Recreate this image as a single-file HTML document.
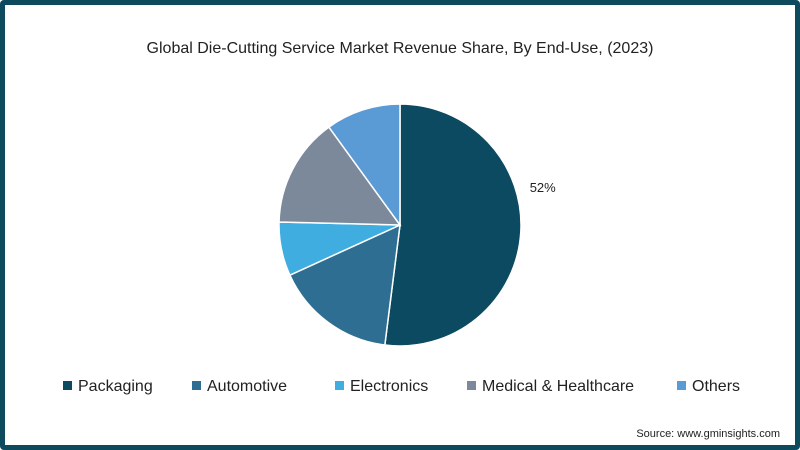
<!DOCTYPE html>
<html><head><meta charset="utf-8"><style>
body{margin:0;width:800px;height:450px;overflow:hidden;background:#fff;font-family:"Liberation Sans",sans-serif}
#frame{position:absolute;left:0;top:0;width:800px;height:450px;box-sizing:border-box;border:5px solid #0d4a5e;border-radius:4px;background:#fff}
</style></head><body>
<div id="frame">
<svg id="chart" width="790" height="440" style="position:absolute;left:0;top:0">
<text x="395" y="48" text-anchor="middle" font-size="16" fill="#222">Global Die-Cutting Service Market Revenue Share, By End-Use, (2023)</text>
<g id="slices"></g>
<g id="legend"></g>
<text x="775" y="432" text-anchor="end" font-size="11" fill="#222">Source: www.gminsights.com</text>
</svg>
</div>
<script>
const categories=["Packaging","Automotive","Electronics","Medical & Healthcare","Others"];
const values=[52,16.2,7.2,14.6,10];
const colors=["#0b4a60","#2e6e92","#40ade0","#7b899b","#5b9bd5"];
const labels=["52%","","","",""];
const ns="http://www.w3.org/2000/svg";
const cx=395,cy=220,r=121;
const total=values.reduce((a,b)=>a+b,0);
const g=document.getElementById("slices");
let a0=0;
function pt(a,rr){return [cx+rr*Math.sin(a),cy-rr*Math.cos(a)];}
values.forEach((v,i)=>{
  const a1=a0+v/total*2*Math.PI;
  const p0=pt(a0,r),p1=pt(a1,r);
  const large=(a1-a0)>Math.PI?1:0;
  const p=document.createElementNS(ns,"path");
  p.setAttribute("d",`M${cx},${cy}L${p0[0]},${p0[1]}A${r},${r} 0 ${large} 1 ${p1[0]},${p1[1]}Z`);
  p.setAttribute("fill",colors[i]);
  p.setAttribute("stroke","#fff");
  p.setAttribute("stroke-width","1.5");
  
  
  g.appendChild(p);
  if(labels[i]){
    const am=(a0+a1)/2;const lp=pt(am,r+22);
    const lt=document.createElementNS(ns,"text");
    lt.setAttribute("x",lp[0]);lt.setAttribute("y",lp[1]-42);
    lt.setAttribute("font-size","13");lt.setAttribute("fill","#222");lt.setAttribute("text-anchor","middle");
    lt.textContent=labels[i];
    
    
    g.appendChild(lt);
  }
  a0=a1;
});
const lg=document.getElementById("legend");
const lx=[58,187,330,462,672];
categories.forEach((c,i)=>{
  const r1=document.createElementNS(ns,"rect");
  r1.setAttribute("x",lx[i]);r1.setAttribute("y",376);r1.setAttribute("width",9);r1.setAttribute("height",9);r1.setAttribute("fill",colors[i]);
  
  
  lg.appendChild(r1);
  const t=document.createElementNS(ns,"text");
  t.setAttribute("x",lx[i]+15);t.setAttribute("y",386);t.setAttribute("font-size","16");t.setAttribute("fill","#222");
  t.textContent=c;
  
  
  lg.appendChild(t);
});
</script>
</body></html>
